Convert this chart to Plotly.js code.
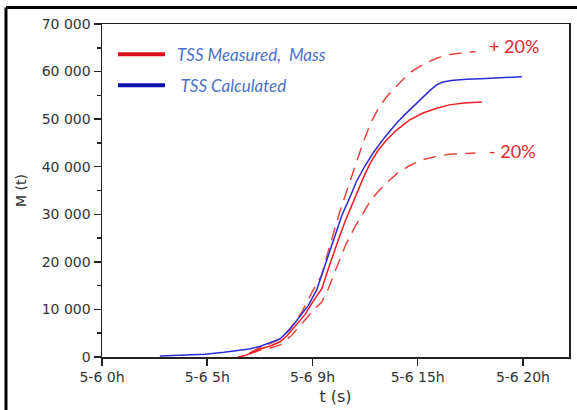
<!DOCTYPE html>
<html>
<head>
<meta charset="utf-8">
<script src="https://cdn.plot.ly/plotly-3.0.1.min.js"></script>
<style>
html,body{margin:0;padding:0;background:#fff;}
#chart{width:577px;height:410px;}
</style>
</head>
<body>
<div id="chart"></div>
<script>
// Calculated TSS mass (hours on 5-6, tonnes)
var calcT = [2.75, 4.0, 4.9, 5.8, 6.55, 7.0, 7.5, 8.0, 8.46, 8.9, 9.4, 9.8, 10.2, 10.5, 10.8, 11.1, 11.4, 11.8, 12.1, 12.5, 12.9, 13.4, 14.0, 14.4, 14.8, 15.2, 15.6, 15.9, 16.2, 16.6, 17.3, 18.0, 18.6, 19.3, 19.95];
var calcM = [200, 350, 600, 1000, 1500, 1700, 2200, 3000, 3800, 5700, 8400, 10800, 14100, 18000, 22300, 26200, 29800, 33800, 37000, 40200, 43000, 46000, 49200, 51000, 52700, 54500, 56100, 57200, 57800, 58100, 58400, 58500, 58650, 58700, 58900];

// Measured TSS mass
var measT = [6.46, 6.8, 7.0, 7.5, 8.0, 8.46, 8.8, 9.2, 9.64, 10.0, 10.45, 10.75, 11.0, 11.3, 11.55, 12.0, 12.4, 12.75, 13.1, 13.5, 14.0, 14.6, 15.25, 15.9, 16.5, 17.2, 18.05];
var measM = [0, 300, 700, 1700, 2300, 3200, 4500, 6500, 8900, 11500, 14400, 18500, 21800, 25500, 28500, 33300, 37500, 40800, 43300, 45500, 47700, 49800, 51300, 52300, 53000, 53400, 53600];

// +20 % band
var upT = [7.0, 7.5, 8.0, 8.5, 9.0, 9.5, 10.0, 10.45, 10.75, 11.0, 11.3, 11.6, 12.0, 12.4, 12.75, 13.1, 13.5, 14.0, 14.6, 15.25, 15.9, 16.5, 17.2, 17.75];
var upM = [800, 2000, 2800, 3900, 6300, 9500, 13800, 17300, 22200, 26200, 30600, 34500, 40000, 45000, 49000, 52000, 54600, 57000, 59700, 61500, 62800, 63600, 64000, 64200];

// -20 % band
var loT = [7.0, 7.5, 8.0, 8.5, 9.0, 9.5, 10.0, 10.45, 10.75, 11.0, 11.3, 11.6, 12.0, 12.4, 12.75, 13.1, 13.5, 14.0, 14.6, 15.25, 15.9, 16.5, 17.2, 17.75];
var loM = [600, 1400, 1900, 2600, 4500, 7000, 9600, 11600, 14300, 17200, 20500, 23800, 27200, 30300, 32800, 34700, 36500, 38500, 40200, 41500, 42200, 42600, 42800, 42900];

// Axis ticks
var xTickVals = [0, 5, 10, 15, 20];
var xTickText = ['5-6 0h', '5-6 5h', '5-6 9h', '5-6 15h', '5-6 20h'];
var yTickVals = [0, 10000, 20000, 30000, 40000, 50000, 60000, 70000];
var yTickText = ['0', '10 000', '20 000', '30 000', '40 000', '50 000', '60 000', '70 000'];
var yMinorVals = [5000, 15000, 25000, 35000, 45000, 55000, 65000];

// Legend and band labels
var seriesNames = ['TSS Measured,  Mass', ' TSS Calculated'];
var bandLabels = ['+ 20%', '- 20%'];
var bandLabelPos = [[18.3, 65300], [18.3, 43400]];

var red = '#f21c24';
var blue = '#2a2ad8';
var dashRed = '#e8453f';

var traces = [
  {x: upT, y: upM, mode: 'lines', line: {color: dashRed, width: 1.5, dash: '13px,8px'}, showlegend: false, hoverinfo: 'skip'},
  {x: loT, y: loM, mode: 'lines', line: {color: dashRed, width: 1.5, dash: '13px,8px'}, showlegend: false, hoverinfo: 'skip'},
  {x: measT, y: measM, mode: 'lines', line: {color: red, width: 1.5}, name: seriesNames[0], showlegend: false},
  {x: calcT, y: calcM, mode: 'lines', line: {color: blue, width: 1.5}, name: seriesNames[1], showlegend: false}
];

var tickFont = {family: 'DejaVu Sans', size: 14, color: '#333'};
var legendFont = {family: 'Lato', size: 17, color: '#4a72c8', style: 'italic'};
var bandFont = {family: 'Lato', size: 18, color: '#e0282d'};

var layout = {
  width: 577, height: 410,
  margin: {l: 102, r: 8, t: 24, b: 53, pad: 0},
  paper_bgcolor: '#fff', plot_bgcolor: '#fff',
  showlegend: false,
  xaxis: {
    range: [0, 22.19], tickmode: 'array', tickvals: xTickVals, ticktext: xTickText,
    ticks: 'outside', ticklen: 7, tickwidth: 1.5, tickcolor: '#222',
    showline: true, linecolor: '#222', linewidth: 1.5, mirror: true,
    showgrid: false, zeroline: false, tickfont: tickFont,
    title: {text: 't (s)', font: {family: 'DejaVu Sans', size: 16, color: '#333'}, standoff: 6}
  },
  yaxis: {
    range: [0, 70000], tickmode: 'array', tickvals: yTickVals, ticktext: yTickText,
    ticks: 'outside', ticklen: 7, tickwidth: 1.5, tickcolor: '#222',
    minor: {tickmode: 'array', tickvals: yMinorVals, ticks: 'outside', ticklen: 4, tickwidth: 1.5, tickcolor: '#222'},
    showline: true, linecolor: '#222', linewidth: 1.5, mirror: true,
    showgrid: false, zeroline: false, tickfont: tickFont,
    title: {text: 'M (t)', font: {family: 'DejaVu Sans', size: 14, color: '#333'}, standoff: 12}
  },
  shapes: [
    // outer frame (top and left edges of the picture frame)
    {type: 'line', xref: 'paper', yref: 'paper', x0: -0.2056, x1: 1.02, y0: 1.0495, y1: 1.0495, line: {color: '#000', width: 3}},
    {type: 'line', xref: 'paper', yref: 'paper', x0: -0.2056, x1: -0.2056, y0: 1.0495, y1: -0.17, line: {color: '#000', width: 3}},
    // legend swatches
    {type: 'line', xref: 'paper', yref: 'paper', x0: 0.0343, x1: 0.1349, y0: 0.9094, y1: 0.9094, line: {color: '#e0101a', width: 4}},
    {type: 'line', xref: 'paper', yref: 'paper', x0: 0.0343, x1: 0.1349, y0: 0.8163, y1: 0.8163, line: {color: '#1010b0', width: 4}}
  ],
  annotations: [
    {xref: 'paper', yref: 'paper', x: 0.156, y: 0.9094, xanchor: 'left', yanchor: 'middle', text: seriesNames[0], showarrow: false, font: legendFont},
    {xref: 'paper', yref: 'paper', x: 0.156, y: 0.8163, xanchor: 'left', yanchor: 'middle', text: seriesNames[1], showarrow: false, font: legendFont},
    {x: bandLabelPos[0][0], y: bandLabelPos[0][1], xanchor: 'left', yanchor: 'middle', text: bandLabels[0], showarrow: false, font: bandFont},
    {x: bandLabelPos[1][0], y: bandLabelPos[1][1], xanchor: 'left', yanchor: 'middle', text: bandLabels[1], showarrow: false, font: bandFont}
  ]
};

Plotly.newPlot('chart', traces, layout, {displayModeBar: false, staticPlot: true});
</script>
</body>
</html>
